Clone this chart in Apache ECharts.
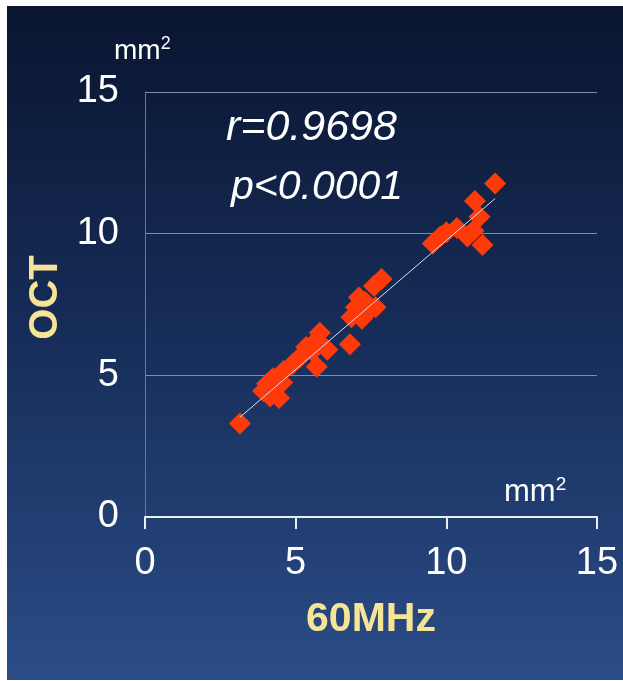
<!DOCTYPE html>
<html>
<head>
<meta charset="utf-8">
<script src="https://cdn.jsdelivr.net/npm/echarts@6/dist/echarts.min.js"></script>
<style>
html,body{margin:0;padding:0;background:#fff;}
#c{width:623px;height:681px;}
</style>
</head>
<body>
<div id="c"></div>
<script>
// Data
const xTicks = [0, 5, 10, 15];
const yTicks = [0, 5, 10, 15];
const mhz60 = [3.15, 3.92, 4.05, 4.15, 4.45, 4.35, 4.25, 4.55, 4.6, 4.9, 5.15, 5.35, 5.7, 5.8, 6.05, 5.7, 5.55,
  6.8, 6.85, 7.0, 7.1, 7.35, 7.65, 7.6, 7.85, 7.3, 7.2,
  9.55, 9.8, 10.0, 10.35, 10.7, 11.2, 11.1, 10.95, 11.62, 10.9];
const oct = [3.3, 4.45, 4.7, 4.25, 4.2, 4.6, 4.9, 4.75, 5.15, 5.4, 5.65, 6.0, 6.25, 6.5, 5.9, 5.3, 5.85,
  6.1, 7.05, 7.4, 7.75, 7.2, 7.4, 8.15, 8.4, 7.6, 7.0,
  9.65, 9.9, 10.05, 10.2, 9.9, 9.6, 10.6, 11.15, 11.77, 10.1];
const fitX = [3.15, 11.62];
const fitY = [3.52, 11.24];
const rText = 'r=0.9698';
const pText = 'p<0.0001';
const xName = '60MHz';
const yName = 'OCT';

const pts = mhz60.map((x, i) => [x, oct[i]]);
const fit = fitX.map((x, i) => [x, fitY[i]]);

const chart = echarts.init(document.getElementById('c'), null, {renderer: 'canvas'});
const font = 'Liberation Sans, Arial, sans-serif';
const yellow = '#f6e497';
chart.setOption({
  backgroundColor: '#ffffff',
  animation: false,
  graphic: [{
    type: 'rect', left: 7, top: 6, z: -10,
    shape: {width: 616, height: 674},
    style: {fill: new echarts.graphic.LinearGradient(0, 0, 0, 1, [
      {offset: 0, color: '#0a1530'}, {offset: 0.5, color: '#172e5a'}, {offset: 1, color: '#2b4c87'}
    ])}
  }],
  title: [
    {text: 'mm{s|2}', left: 109, top: 30, textStyle: {color: '#fff', fontFamily: font, fontSize: 28, fontWeight: 'normal',
      rich: {s: {fontSize: 18, verticalAlign: 'top', color: '#fff', padding: [0, 0, 15, 0], fontFamily: font}}}},
    {text: 'mm{s|2}', left: 499, top: 470, textStyle: {color: '#fff', fontFamily: font, fontSize: 31, fontWeight: 'normal',
      rich: {s: {fontSize: 19, verticalAlign: 'top', color: '#fff', padding: [0, 0, 16, 0], fontFamily: font}}}},
    {text: rText, left: 221, top: 102, textStyle: {color: '#fff', fontFamily: font, fontSize: 43, fontStyle: 'italic', fontWeight: 'normal'}},
    {text: pText, left: 226, top: 162, textStyle: {color: '#fff', fontFamily: font, fontSize: 41, fontStyle: 'italic', fontWeight: 'normal'}}
  ],
  grid: {left: 145, right: 26, top: 92, bottom: 164, containLabel: false},
  xAxis: {
    type: 'value', min: 0, max: 15, interval: 5,
    name: xName, nameLocation: 'middle', nameGap: 82,
    nameTextStyle: {color: yellow, fontFamily: font, fontSize: 41, fontWeight: 'bold'},
    axisLine: {show: true, lineStyle: {color: '#e8ecf4', width: 2}},
    axisTick: {show: true, length: 12, lineStyle: {color: '#e8ecf4', width: 2}},
    axisLabel: {color: '#fff', fontFamily: font, fontSize: 38, margin: 28,
      formatter: v => xTicks.includes(v) ? String(v) : ''},
    splitLine: {show: false}
  },
  yAxis: {
    type: 'value', min: 0, max: 15, interval: 5,
    name: yName, nameLocation: 'middle', nameGap: 79, nameRotate: 90,
    nameTextStyle: {color: yellow, fontFamily: font, fontSize: 40, fontWeight: 'bold', padding: [0, 0, 0, 14]},
    axisLine: {show: true, onZero: false, lineStyle: {color: '#6a7896', width: 1}},
    axisTick: {show: false},
    axisLabel: {color: '#fff', fontFamily: font, fontSize: 38, margin: 26,
      formatter: v => yTicks.includes(v) ? String(v) : ''},
    splitLine: {show: true, lineStyle: {color: '#7f8db0', width: 1}}
  },
  series: [
    {type: 'scatter', data: pts, symbol: 'diamond', symbolSize: 22,
      itemStyle: {color: '#ff3a0a', opacity: 1}, z: 2},
    {type: 'line', data: fit, symbol: 'none', lineStyle: {color: '#d8def0', width: 1}, z: 3}
  ]
});
</script>
</body>
</html>
